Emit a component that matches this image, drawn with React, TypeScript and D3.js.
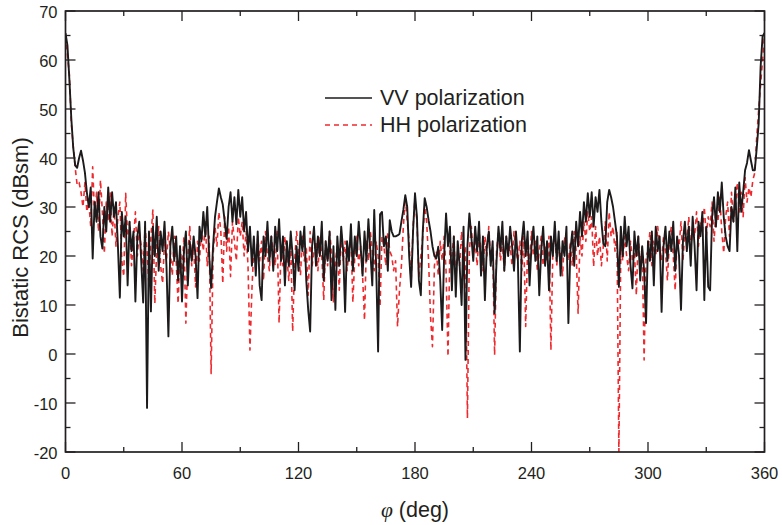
import React from "react";
import * as d3 from "d3";

// bistatic angle, 1 degree steps
const phi = d3.range(0, 361);

const vv = [
  65.5, 63, 56, 48, 42, 38.5, 38, 40, 41.5, 39.5,
  37, 33, 30, 34, 19.5, 31, 27, 33, 24, 21.5,
  30, 25, 34, 27, 33, 28, 31, 22, 11.5, 29,
  24, 28, 14, 27, 21, 25, 10.7, 24, 27, 19,
  10.5, 27, -11, 25, 8.7, 26, 20, 28, 17, 25,
  21, 27, 18, 3.6, 22, 26, 19, 24, 15, 22,
  10.7, 21, 25, 14, 23, 19, 24, 20, 11.4, 26,
  23, 29, 24, 30, 20, 13.5, 22, 28, 31, 33.8,
  32, 30.5, 27, 23.5, 30, 33, 27, 32, 26.5, 33.5,
  28, 32, 25, 29, 21, 26, 18, 24, 16, 25,
  14, 11, 24, 20, 27, 19, 24, 17, 26, 21,
  27.5, 19, 24, 14, 23, 18, 25, 20, 13, 22,
  17, 25, 21, 26, 15, 9, 4.6, 22, 26, 18,
  24, 20, 27, 15, 23, 19, 25, 11, 22, 9,
  24, 18, 26, 21, 8.6, 23, 19, 26.5, 17, 24,
  20, 27, 22, 16, 25, 19, 27.5, 21, 14, 29.4,
  18, 0.5, 28.5, 29, 22, 24, 17, 27.3, 25, 24,
  24, 24.2, 24.5, 27, 29.4, 32.4, 30, 20, 13.7, 25,
  32.8, 28, 15, 12, 25, 31.8, 30, 27.3, 25, 22,
  20, 19.5, 21.9, 15, 4.9, 20, 28.7, 22, 26, 13,
  24, 11.7, 23, 18, 10, 26, -1.2, 22, 28.7, 24,
  19, 26, 21, 27, 16, 24, 11, 22, 25, 18,
  23, 8.3, 19, 26, 21, 27, 17, 24, 20, 26,
  22, 17, 25, 19, 0.5, 23, 27, 20, 25, 14,
  22, 26, 19, 24, 12, 21, 26, 18, 23, 13,
  24, 20, 27, 19, 25, 16, 23, 20, 26, 6.3,
  21, 25, 18, 27, 22, 29, 24, 31, 27, 32.8,
  28, 33, 26, 32, 29, 33.5, 27, 22.5, 22, 31,
  33.5, 32, 30, 27, 24, 13.7, 26, 20, 28, 22,
  26, 18, 13.4, 25, 20, 24, 15, 22, 17, 6.3,
  23, 19, 25, 14, 26, 21, 24, 8.6, 22, 26,
  19, 25, 21, 27, 17, 24, 20, 9, 23, 27,
  21, 26, 18, 28, 22, 13, 27, 24, 29, 11,
  26, 13.7, 13, 28, 32, 26, 33, 29, 35, 28,
  24, 22, 21, 30, 27, 34, 21, 35, 29, 33,
  37.5, 39, 41.6, 39.5, 37.5, 37.5, 42, 47, 58.6, 64.8,
  65.5,
];

const hh = [
  65, 61, 57, 47, 42.3, 38, 34.5, 35, 33, 30,
  35, 29, 31, 26, 38.2, 28, 33, 25, 35.5, 29,
  20.5, 31, 27, 33, 24, 30, 22, 28, 31, 19,
  15.8, 32.8, 24, 27, 18, 23, 29, 20, 25, 22,
  17, 26, 21, 13.7, 24, 29.4, 10.3, 22, 26, 18,
  14.4, 23, 19, 25, 21, 16, 24, 19, 10.3, 22,
  17, 24, 6.3, 20, 26, 18, 22, 13.7, 23, 19,
  25, 21, 27, 18, 24, -4, 20, 26, 22, 29,
  25, 14.4, 28, 21, 26, 15.8, 27, 23, 19, 28,
  24, 27, 20, 25, 18, 0.8, 13, 22, 17, 24,
  19, 23, 15, 25, 20, 17, 24, 21, 18, 25,
  6.3, 22, 18, 24, 20, 15, 23, 4.6, 19, 25,
  21, 16, 24, 19, 22, 12, 25, 18, 21, 23,
  17, 24, 20, 11, 23, 18, 25, 21, 10.5, 19,
  22, 13, 25, 19, 23, 17, 21, 24, 10.5, 20,
  24, 18, 22, 16, 6.9, 23, 19, 25, 21, 17,
  23, 20, 9.7, 24, 22, 18, 25, 21, 20, 17,
  19, 5.6, 13, 18, 26, 32, 27, 23, 14.4, 26,
  32, 27, 15.8, 20, 24, 30, 27, 19, 7.6, 1.5,
  18, 21, 16, 23, 19, 24, 17, -0.5, 22, 20,
  24, 15, 21, 18, 25, 19, 22, -13.1, 21, 26,
  20, 23, 18, 25, 21, 17, 24, 20, 26, 19,
  22, -0.2, 21, 25, 19, 23, 17, 24, 20, 22,
  18, 25, 21, 19, 23, 17, 24, 5.6, 22, 19,
  25, 20, 23, 17, 21, 24, 18, 22, 19, 24,
  0.8, 21, 25, 18, 23, 20, 16, 24, 21, 19,
  23, 18, 25, 21, 8.3, 24, 20, 27, 23, 29,
  25, 28, 17.8, 26, 20, 24, 18, 22, 27, 19,
  29, 24, 26, 21, 25, -20, 22, 19, 24, 20,
  17, 23, 19, 21, 12, 24, 18, 22, -1.2, 20,
  21, 25, 18, 23, 20, 26, 22, 19, 24, 21,
  15, 23, 26, 20, 13, 24, 22, 27, 19, 25,
  23, 28, 21, 26, 24, 29, 22, 27, 25, 30,
  24, 28, 26, 31, 23, 29, 27, 32, 25, 20.6,
  28, 31, 24, 33, 27, 30, 35, 29, 33, 28,
  36, 31, 34, 32, 35.5, 37, 44.3, 49.8, 55, 60,
  65,
];

const xTicks = [0, 60, 120, 180, 240, 300, 360];
const xMinor = [30, 90, 150, 210, 270, 330];
const yTicks = [-20, -10, 0, 10, 20, 30, 40, 50, 60, 70];
const yMinor = [-15, -5, 5, 15, 25, 35, 45, 55, 65];

const W = 782, H = 525;
const left = 65.5, right = 764.5, top = 11, bottom = 452;
const font = "'Liberation Sans', Arial, Helvetica, sans-serif";

export default function App() {
  const x = d3.scaleLinear().domain([0, 360]).range([left, right]);
  const y = d3.scaleLinear().domain([-20, 70]).range([bottom, top]);

  const line = d3.line<number>()
    .x((d, i) => x(phi[i]))
    .y(d => y(d));

  const tickStroke = "#231f20";

  return (
    <svg width={W} height={H} style={{ position: "absolute", left: 0, top: 0, background: "#fff" }}>
      <defs>
        <clipPath id="plot-clip">
          <rect x={left} y={top} width={right - left} height={bottom - top} />
        </clipPath>
      </defs>

      <g clipPath="url(#plot-clip)">
        <path d={line(hh) || ""} fill="none" stroke="#ee2a2e" strokeWidth={1.6}
          strokeDasharray="5,4" strokeLinejoin="round" />
        <path d={line(vv) || ""} fill="none" stroke="#1c1a1b" strokeWidth={1.9}
          strokeLinejoin="round" />
      </g>

      {/* ticks on all four sides, pointing in */}
      <g stroke={tickStroke} strokeWidth={1.3}>
        {xTicks.map(t => (
          <g key={"xt" + t}>
            <line x1={x(t)} x2={x(t)} y1={bottom} y2={bottom - 10} />
            <line x1={x(t)} x2={x(t)} y1={top} y2={top + 10} />
          </g>
        ))}
        {xMinor.map(t => (
          <g key={"xm" + t}>
            <line x1={x(t)} x2={x(t)} y1={bottom} y2={bottom - 5} />
            <line x1={x(t)} x2={x(t)} y1={top} y2={top + 5} />
          </g>
        ))}
        {yTicks.map(t => (
          <g key={"yt" + t}>
            <line x1={left} x2={left + 10} y1={y(t)} y2={y(t)} />
            <line x1={right} x2={right - 10} y1={y(t)} y2={y(t)} />
          </g>
        ))}
        {yMinor.map(t => (
          <g key={"ym" + t}>
            <line x1={left} x2={left + 5} y1={y(t)} y2={y(t)} />
            <line x1={right} x2={right - 5} y1={y(t)} y2={y(t)} />
          </g>
        ))}
      </g>

      <rect x={left} y={top} width={right - left} height={bottom - top}
        fill="none" stroke={tickStroke} strokeWidth={1.7} />

      <g fontFamily={font} fontSize={16.5} fill="#231f20">
        {xTicks.map(t => (
          <text key={"xl" + t} x={x(t)} y={bottom + 27} textAnchor="middle">{t}</text>
        ))}
        {yTicks.map(t => (
          <text key={"yl" + t} x={left - 8} y={y(t) + 1} textAnchor="end" dominantBaseline="central">{t}</text>
        ))}
      </g>

      <text x={(left + right) / 2} y={517} textAnchor="middle" fontFamily={font} fontSize={21.5} fill="#231f20">
        <tspan fontFamily="'Liberation Serif', 'DejaVu Serif', serif" fontStyle="italic">φ</tspan>
        <tspan> (deg)</tspan>
      </text>
      <text transform={`translate(28,${(top + bottom) / 2 + 6}) rotate(-90)`} textAnchor="middle"
        fontFamily={font} fontSize={22} fill="#231f20">
        Bistatic RCS (dBsm)
      </text>

      {/* legend */}
      <g fontFamily={font} fontSize={21.5} fill="#231f20">
        <line x1={325} x2={372} y1={98} y2={98} stroke="#1c1a1b" strokeWidth={1.6} />
        <text x={380} y={98} dominantBaseline="central">VV polarization</text>
        <line x1={325} x2={372} y1={125} y2={125} stroke="#ee2a2e" strokeWidth={1.4} strokeDasharray="5,4" />
        <text x={380} y={125} dominantBaseline="central">HH polarization</text>
      </g>
    </svg>
  );
}
